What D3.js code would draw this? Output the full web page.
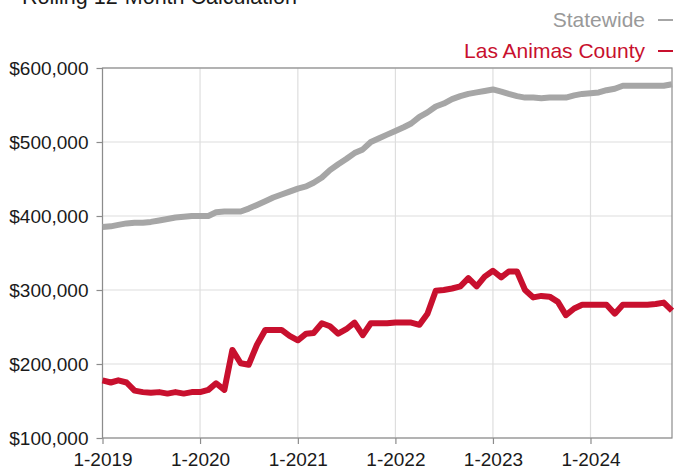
<!DOCTYPE html>
<html>
<head>
<meta charset="utf-8">
<script src="https://cdn.jsdelivr.net/npm/d3@7"></script>
<style>
  body { margin: 0; background: #fff; }
  svg { display: block; font-family: "Liberation Sans", Arial, sans-serif; }
</style>
</head>
<body>
<svg width="674" height="468"></svg>
<script>
// monthly, 1-2019 .. 11-2024
var startMonth = "2019-01";
var statewide = [
  385, 386, 388, 390, 391, 391, 392, 394, 396, 398, 399, 400,
  400, 400, 405, 406, 406, 406, 410, 415, 420, 425, 429, 433,
  437, 440, 445, 452, 462, 470, 477, 485, 490, 500, 505, 510,
  515, 520, 525, 534, 540, 548, 552, 558, 562, 565, 567, 569,
  571, 568, 565, 562, 560, 560, 559, 560, 560, 560, 563, 565,
  566, 567, 570, 572, 576, 576, 576, 576, 576, 576, 578
];
var county = [
  178, 175, 178, 175, 164, 162, 161, 162, 160, 162, 160, 162,
  162, 165, 174, 165, 219, 201, 199, 226, 246, 246, 246, 238,
  232, 241, 242, 255, 251, 241, 247, 256, 239, 255, 255, 255,
  256, 256, 256, 253, 268, 299, 300, 302, 305, 316, 305, 318,
  326, 317, 325, 325, 300, 290, 292, 291, 284, 266, 275, 280,
  280, 280, 280, 268, 280, 280, 280, 280, 281, 283, 272
];
var yTicks = [100000, 200000, 300000, 400000, 500000, 600000];
var xTickLabels = ["1-2019", "1-2020", "1-2021", "1-2022", "1-2023", "1-2024"];
var seriesNames = ["Statewide", "Las Animas County"];
var seriesColors = ["#a6a6a6", "#c8102e"];

var svg = d3.select("svg");
var margin = {left: 102.5, right: 2, top: 68, bottom: 30};
var width = 674 - margin.left - margin.right;
var height = 468 - margin.top - margin.bottom;

var parse = d3.timeParse("%Y-%m");
var t0 = parse(startMonth);
var dates = statewide.map(function(d, i) { return d3.timeMonth.offset(t0, i); });

var xScale = d3.scaleTime()
  .domain([dates[0], dates[dates.length - 1]])
  .range([0, width]);
var yScale = d3.scaleLinear()
  .domain([100000, 600000])
  .range([height, 0]);

var g = svg.append("g").attr("transform", "translate(" + margin.left + "," + margin.top + ")");

var xTickDates = xTickLabels.map(function(s) {
  var p = s.split("-");
  return new Date(+p[1], +p[0] - 1, 1);
});

// grid
g.selectAll(".hgrid").data(yTicks).enter().append("line")
  .attr("x1", 0).attr("x2", width)
  .attr("y1", function(d) { return yScale(d); })
  .attr("y2", function(d) { return yScale(d); })
  .attr("stroke", "#dedede").attr("stroke-width", 1.2);
g.selectAll(".vgrid").data(xTickDates).enter().append("line")
  .attr("x1", function(d) { return xScale(d); })
  .attr("x2", function(d) { return xScale(d); })
  .attr("y1", 0).attr("y2", height)
  .attr("stroke", "#dedede").attr("stroke-width", 1.2);

// frame
g.append("rect")
  .attr("x", 0).attr("y", 0)
  .attr("width", width).attr("height", height)
  .attr("fill", "none").attr("stroke", "#8c8c8c").attr("stroke-width", 1.2);

// axes
var yAxis = d3.axisLeft(yScale)
  .tickValues(yTicks)
  .tickSize(6)
  .tickPadding(8)
  .tickFormat(function(d) { return "$" + d3.format(",")(d); });
var xAxis = d3.axisBottom(xScale)
  .tickValues(xTickDates)
  .tickSize(6)
  .tickPadding(9)
  .tickFormat(function(d, i) { return xTickLabels[i]; });

var ya = g.append("g").call(yAxis);
var xa = g.append("g").attr("transform", "translate(0," + height + ")").call(xAxis);
[ya, xa].forEach(function(a) {
  a.selectAll(".tick line").attr("stroke", "#8c8c8c").attr("stroke-width", 1.2);
  a.selectAll(".tick text").attr("fill", "#1a1a1a").style("font-size", "19px");
});
ya.select(".domain").remove();
xa.select(".domain").remove();

// lines
var line = d3.line()
  .x(function(d, i) { return xScale(dates[i]); })
  .y(function(d) { return yScale(d * 1000); });

[statewide, county].forEach(function(s, k) {
  g.append("path")
    .datum(s)
    .attr("d", line)
    .attr("fill", "none")
    .attr("stroke", seriesColors[k])
    .attr("stroke-width", 6)
    .attr("stroke-linejoin", "round")
    .attr("stroke-linecap", "butt");
});

// title (cut off at top)
svg.append("text")
  .attr("x", 22).attr("y", 4)
  .attr("fill", "#1a1a1a")
  .style("font-size", "21.5px")
  .text("Rolling 12-Month Calculation");

// legend
var legendY = [27, 58];
seriesNames.forEach(function(name, k) {
  svg.append("text")
    .attr("x", 645).attr("y", legendY[k])
    .attr("text-anchor", "end")
    .attr("fill", k === 0 ? "#999999" : seriesColors[k])
    .style("font-size", "21px")
    .text(name);
  svg.append("line")
    .attr("x1", 658).attr("x2", 673)
    .attr("y1", legendY[k] - 7).attr("y2", legendY[k] - 7)
    .attr("stroke", seriesColors[k])
    .attr("stroke-width", 2);
});
</script>
</body>
</html>
